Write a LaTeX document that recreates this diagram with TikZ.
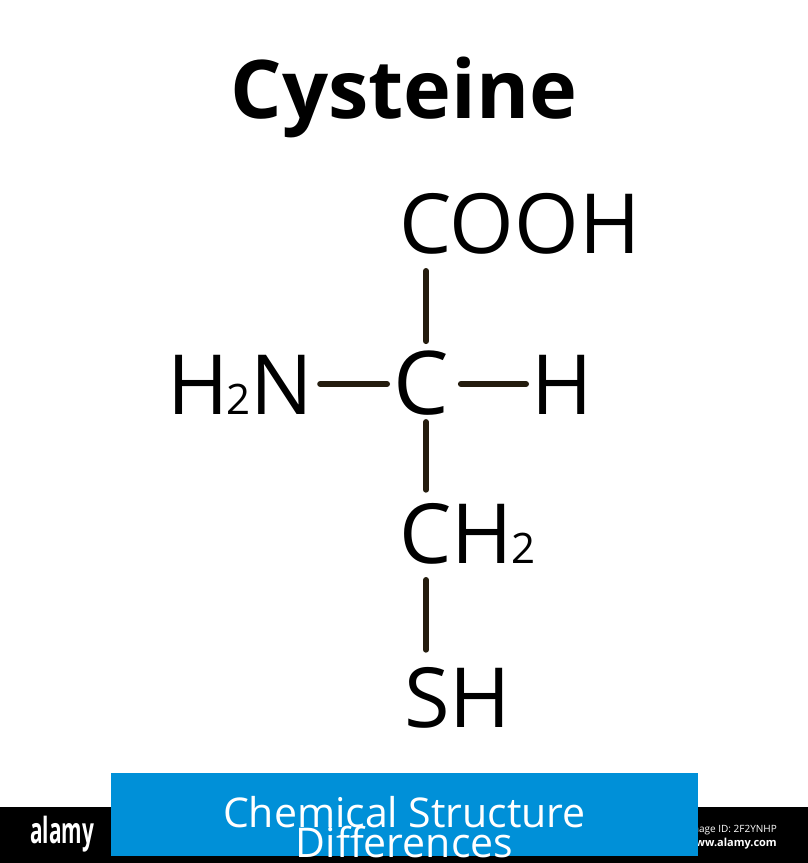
\documentclass[tikz,border=0pt]{standalone}
\usepackage{fontspec}
\setmainfont{Open Sans}
\usetikzlibrary{positioning}
\newcommand{\subtwo}{{\fontsize{42}{42}\selectfont 2}}
\definecolor{bondcol}{HTML}{241C0E}
\definecolor{bannercol}{HTML}{0090D8}

\begin{document}
\begin{tikzpicture}[x=1pt, y=-1pt,
    atom/.style={inner sep=0pt, anchor=base west, font=\fontsize{83}{83}\selectfont},
    bond/.style={draw=bondcol, line width=6pt, line cap=round},
    stamp/.style={inner sep=0pt, text=white, anchor=base west}]
  \useasboundingbox (0,0) rectangle (808,863);
  \fill[white] (0,0) rectangle (808,863);

  % title and atoms
  \node[inner sep=0pt, anchor=base, font=\fontsize{81}{81}\selectfont\bfseries] (title) at (404,118) {Cysteine};
  \node[atom] (cooh) at (399,253) {COOH};
  \node[atom, font=\fontsize{88}{88}\selectfont] (c) at (393,414) {C};
  \node[atom] (amine) at (167,414) {H\kern-2pt\subtwo N};
  \node[atom] (h) at (531,414) {H};
  \node[atom] (ch2) at (399,563) {CH\kern-1pt\subtwo};
  \node[atom] (sh) at (404,727) {SH};
  \coordinate (axis) at (426,384);

  % bonds
  \draw[bond, shorten <=17pt, shorten >=9pt] (axis |- cooh.south) -- (axis |- c.north);
  \draw[bond, shorten <=7pt, shorten >=13pt] (axis |- c.south) -- (axis |- ch2.north);
  \draw[bond, shorten <=16pt, shorten >=17pt] (axis |- ch2.south) -- (axis |- sh.north);
  \draw[bond, shorten <=7pt, shorten >=6pt] (amine.east |- axis) -- (c.west |- axis);
  \draw[bond, shorten <=12pt, shorten >=5pt] (c.east |- axis) -- (h.west |- axis);

  % footer
  \fill[black] (0,807) rectangle (808,863);
  \node[stamp, font=\fontsize{36}{36}\selectfont\bfseries, xscale=.58] (logo) at (30,843) {alamy};
  \node[stamp, anchor=base east, font=\fontsize{10}{10}\selectfont] (imageid) at (777,832) {Image ID: 2F2YNHP};
  \node[stamp, anchor=base east, font=\fontsize{11}{11}\selectfont\bfseries] (site) at (777,846) {www.alamy.com};
  \node[fill=bannercol, inner sep=0pt, minimum width=587pt, minimum height=83pt] (banner) at (404.5,814.5) {};
  \node[stamp, anchor=base, font=\fontsize{41}{41}\selectfont] (line1) at (404.5,827.5) {Chemical Structure};
  \node[stamp, anchor=base, font=\fontsize{41}{41}\selectfont] (line2) at (404.5,857) {Differences};
\end{tikzpicture}
\end{document}
